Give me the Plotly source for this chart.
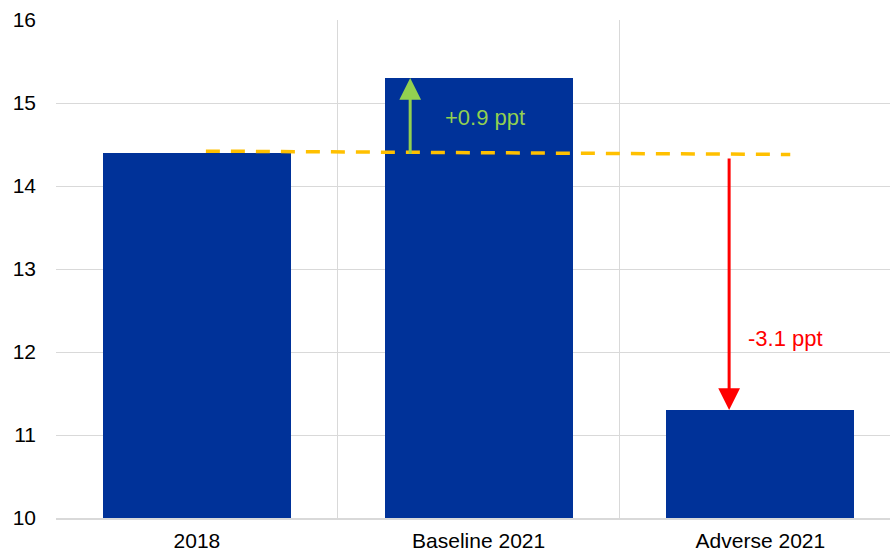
import plotly.graph_objects as go

# Categories and values
categories = ["2018", "Baseline 2021", "Adverse 2021"]
values = [14.4, 15.3, 11.3]

# Reference level (2018) carried across as a dashed guide
ref_x = [0.032, 2.106]
ref_y = [14.42, 14.38]

# Changes versus 2018
change_labels = ["+0.9 ppt", "-3.1 ppt"]
change_colors = ["#92D050", "#FF0000"]
arrow_x = [0.757, 1.889]
arrow_from = [14.37, 14.35]
arrow_to = [values[1], values[2]]
label_x = [1.023, 2.09]
label_y = [14.83, 12.16]

FONT = "Liberation Sans, Arial, sans-serif"
xpos = list(range(len(categories)))

fig = go.Figure()
fig.add_trace(go.Bar(
    x=xpos, y=values, width=0.667,
    marker=dict(color="#003299", line=dict(width=0)),
    showlegend=False, hoverinfo="skip",
))
fig.add_trace(go.Scatter(
    x=ref_x, y=ref_y, mode="lines",
    line=dict(color="#FFC000", width=3.5, dash="14px,11px"),
    showlegend=False, hoverinfo="skip",
))

for i in range(2):
    fig.add_annotation(
        x=arrow_x[i], y=arrow_to[i], ax=arrow_x[i], ay=arrow_from[i],
        xref="x", yref="y", axref="x", ayref="y",
        showarrow=True, arrowhead=2, arrowsize=1.45, arrowwidth=3,
        arrowcolor=change_colors[i], standoff=0, startstandoff=0, text="",
    )
    fig.add_annotation(
        x=label_x[i], y=label_y[i], xref="x", yref="y",
        text=change_labels[i], showarrow=False,
        font=dict(family=FONT, size=22, color=change_colors[i]),
    )

fig.update_layout(
    width=890, height=554,
    margin=dict(l=56, r=0, t=20, b=36),
    plot_bgcolor="white", paper_bgcolor="white",
    font=dict(family=FONT, size=21, color="#000000"),
    bargap=0,
)
fig.update_xaxes(
    range=[-0.5, 2.46], tickmode="array", tickvals=xpos, ticktext=categories,
    tickfont=dict(size=21),
    showgrid=False, ticks="", showline=True, linecolor="#d9d9d9", linewidth=2,
    ticklabelstandoff=3, zeroline=False, automargin=False,
    minor=dict(tickmode="linear", tick0=-0.5, dtick=1, showgrid=True,
               gridcolor="#d9d9d9", gridwidth=1, ticks=""),
)
fig.update_yaxes(
    range=[10, 16], dtick=1, showgrid=True, gridcolor="#d9d9d9", gridwidth=1,
    ticks="", zeroline=False, showline=False, ticklabelstandoff=19,
    automargin=False,
)

fig.write_html("out.html")
